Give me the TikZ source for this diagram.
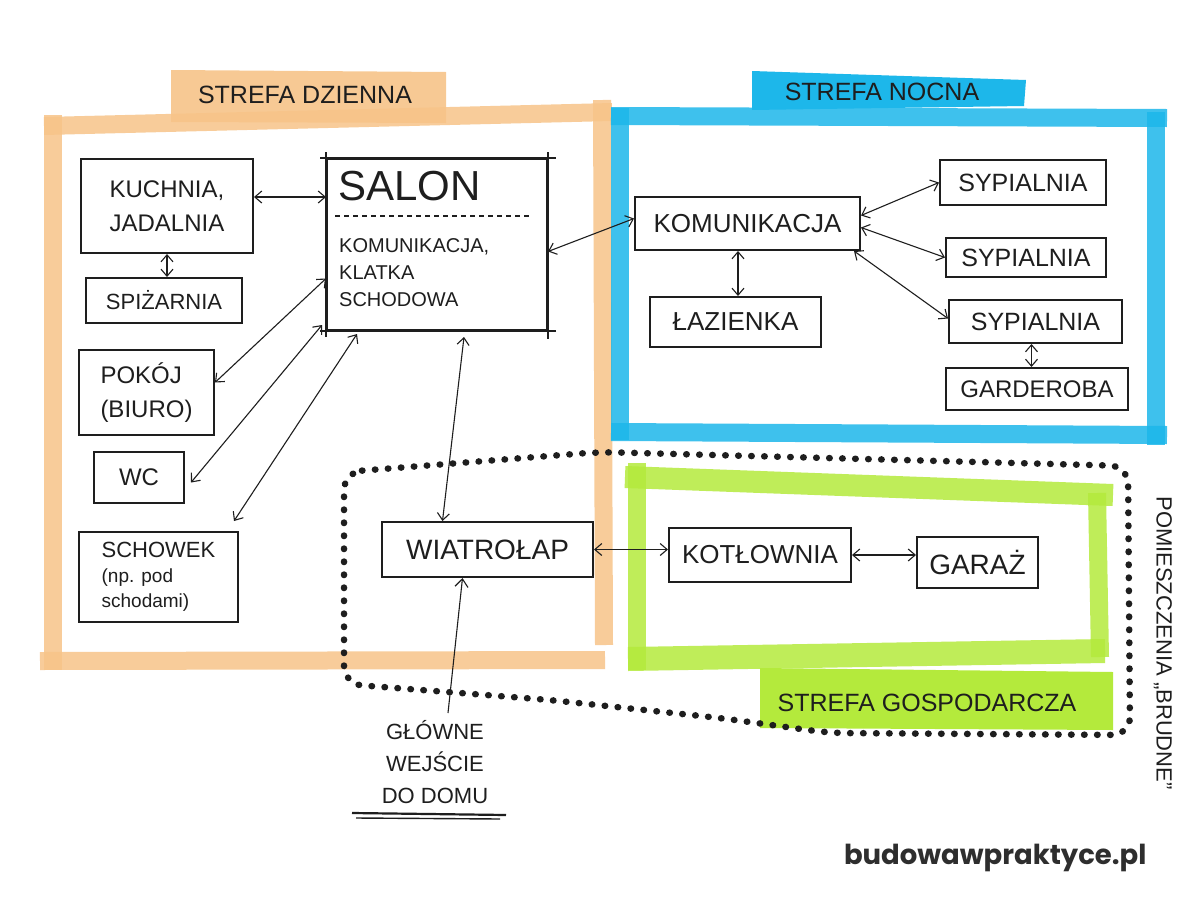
\documentclass[tikz,border=0pt]{standalone}
\usepackage{fontspec}
\setmainfont{Liberation Sans}
\newfontfamily\wmfont{Poppins}
\usetikzlibrary{arrows.meta,calc}
\definecolor{morange}{HTML}{F7C489}
\definecolor{morangelab}{HTML}{F7C78F}
\definecolor{mblue}{HTML}{1DB7EA}
\definecolor{mgreen}{HTML}{B4EA3C}
\definecolor{ink}{HTML}{1E1E1E}
\definecolor{wm}{HTML}{2E2E2E}
\newcommand{\fsz}[2]{\fontsize{#1}{#2}\selectfont}
\begin{document}
\begin{tikzpicture}[x=1pt,y=-1pt,
  room/.style={draw=ink,line width=2pt,inner sep=0pt,fill=white,text=ink,align=left,font=\fsz{24}{34}},
  zone/.style={text=ink,font=\fsz{25}{30}},
  band/.style={line width=18pt,opacity=0.85,line cap=butt},
  arr/.style={draw=ink,line width=1.1pt,{Straight Barb[length=7pt,width=12pt]}-{Straight Barb[length=7pt,width=12pt]}},
  arrone/.style={draw=ink,line width=1.1pt,-{Straight Barb[length=8pt,width=13pt]}},
  dots/.style={draw=ink,line width=6.5pt,line cap=round,dash pattern=on 0.5pt off 12.5pt,rounded corners=18pt}
]
\useasboundingbox[fill=white] (0,0) rectangle (1200,900);

% ---- marker bands: day zone (orange)
\fill[morangelab,opacity=0.95] (171,70) -- (446,72) -- (446,123) -- (171,122) -- cycle;
\draw[band,morange] (44,126) -- (612,112);
\draw[band,morange] (53,115) -- (53,670);
\draw[band,morange] (602,100) -- (604,645);
\draw[band,morange] (40,661) -- (605,660);
\node[zone] (dzienna) at (305,95) {STREFA DZIENNA};

% ---- night zone (blue)
\fill[mblue] (752,71) -- (1026,80) -- (1024,106) -- (752,110) -- cycle;
\draw[band,mblue] (611,116) -- (1167,118);
\draw[band,mblue] (620,108) -- (620,440);
\draw[band,mblue] (1156,112) -- (1156,445);
\draw[band,mblue] (611,432) -- (1167,435);
\node[zone] (nocna) at (882,92) {STREFA NOCNA};

% ---- utility zone (green)
\fill[mgreen] (760,668) -- (1113,672) -- (1113,730) -- (760,728) -- cycle;
\draw[band,mgreen,line width=22pt] (625,477) -- (1113,495);
\draw[band,mgreen] (637,463) -- (637,670);
\draw[band,mgreen] (1097,493) -- (1100,657);
\draw[band,mgreen,line width=24pt] (628,659) -- (1105,651);
\node[zone] (gosp) at (927,703) {STREFA GOSPODARCZA};

% ---- dotted "dirty rooms" outline
\draw[dots] (344,472) -- (600,452) -- (1128,466) -- (1130,735) -- (830,733) -- (720,718) -- (550,700) -- (344,684) -- cycle;
\node[rotate=-90,text=ink,font=\fsz{22}{26}] (brudne) at (1163,643) {POMIESZCZENIA „BRUDNE”};

% ---- rooms, day zone
\node[room,minimum width=172pt,minimum height=94pt] (kuchnia) at (167,206) {KUCHNIA,\\JADALNIA};
\node[room,minimum width=156pt,minimum height=45pt,font=\fsz{22}{26}] (spiz) at (164,300.5) {SPIŻARNIA};
\node[room,minimum width=220pt,minimum height=171pt] (salon) at (437,244.5) {};
\draw[ink,line width=2pt] ([xshift=-6pt]salon.north west) -- ([xshift=8pt]salon.north east)
  ([yshift=6pt]salon.north east) -- ([yshift=-8pt]salon.south east)
  ([xshift=8pt]salon.south east) -- ([xshift=-6pt]salon.south west)
  ([yshift=-6pt]salon.south west) -- ([yshift=6pt]salon.north west);
\node[anchor=west,text=ink,font=\fsz{42}{46},inner sep=0pt] (salontxt) at (338,186) {SALON};
\draw[ink,line width=1.3pt,dash pattern=on 5pt off 4pt] ([xshift=9pt,yshift=-58pt]salon.north west) -- ([xshift=-18pt,yshift=-58pt]salon.north east);
\node[anchor=north west,text=ink,align=left,font=\fsz{20}{27},inner sep=0pt] (salonsub) at (339,238) {KOMUNIKACJA,\\KLATKA\\SCHODOWA};
\node[room,minimum width=135pt,minimum height=85pt] (pokoj) at (146.5,392.5) {POKÓJ\\(BIURO)};
\node[room,minimum width=90pt,minimum height=51pt] (wc) at (139,477.5) {WC};
\node[room,minimum width=159pt,minimum height=90pt,font=\fsz{22}{25}] (schowek) at (158.5,577) {SCHOWEK\\{\fsz{19}{25}(np. pod}\\{\fsz{19}{25}schodami)}};

% ---- rooms, night zone
\node[room,minimum width=225pt,minimum height=53pt,font=\fsz{26}{30}] (komn) at (747.5,223.5) {KOMUNIKACJA};
\node[room,minimum width=171pt,minimum height=50pt,font=\fsz{26}{30}] (laz) at (735.5,322) {ŁAZIENKA};
\node[room,minimum width=166pt,minimum height=45pt,font=\fsz{25}{30}] (syp1) at (1023,182.5) {SYPIALNIA};
\node[room,minimum width=160pt,minimum height=39pt,font=\fsz{25}{30}] (syp2) at (1026,257.5) {SYPIALNIA};
\node[room,minimum width=173pt,minimum height=43pt,font=\fsz{25}{30}] (syp3) at (1035.5,321.5) {SYPIALNIA};
\node[room,minimum width=182pt,minimum height=42pt,font=\fsz{24}{30}] (gard) at (1037,389) {GARDEROBA};

% ---- rooms, utility zone
\node[room,minimum width=211pt,minimum height=55pt,font=\fsz{28}{32}] (wiatr) at (487.5,549.5) {WIATROŁAP};
\node[room,minimum width=182pt,minimum height=54pt,font=\fsz{26}{30}] (kotl) at (760,555) {KOTŁOWNIA};
\node[room,minimum width=121pt,minimum height=51pt,font=\fsz{28}{32}] (garaz) at (977.5,562.5) {GARAŻ};

% ---- entrance
\node[text=ink,align=center,font=\fsz{22}{32}] (wejscie) at (435,762) {GŁÓWNE\\WEJŚCIE\\DO DOMU};
\coordinate (entr) at (448,713);
\draw[ink,line width=2.2pt] (352,813) -- (506,815);
\draw[ink,line width=1.4pt] (356,818) -- (500,819);

% ---- connectors
\draw[arr] ([yshift=9pt]kuchnia.east) -- ([yshift=9pt]kuchnia.east -| salon.west);
\draw[arr] (kuchnia.south) -- (kuchnia.south |- spiz.north);
\draw[arr] ([yshift=10pt]pokoj.east) -- ([yshift=-34pt]salon.west);
\draw[arr] ([xshift=6pt,yshift=-5pt]wc.east) -- ([xshift=-4pt,yshift=6pt]salon.south west);
\draw[arr] ([xshift=-5pt,yshift=10pt]schowek.north east) -- ([xshift=31pt,yshift=-3pt]salon.south west);
\draw[arr] ([xshift=27pt,yshift=-6pt]salon.south) -- ([xshift=-45pt]wiatr.north);
\draw[arr] ([yshift=-7pt]salon.east) -- ([yshift=5pt]komn.west);
\draw[arr] ([yshift=8pt]komn.east) -- (syp1.west);
\draw[arr] ([yshift=-4pt]komn.east) -- (syp2.west);
\draw[arr] ([xshift=-7pt]komn.south east) -- ([yshift=3pt]syp3.west);
\draw[arr] ([xshift=-9.5pt]komn.south) -- ([xshift=-9.5pt]komn.south |- laz.north);
\draw[arr] ([xshift=-4pt]syp3.south) -- ([xshift=-4pt]syp3.south |- gard.north);
\draw[arr] (wiatr.east) -- (wiatr.east -| kotl.west);
\draw[arr] (kotl.east) -- (kotl.east -| garaz.west);
\draw[arrone] (entr) -- ([xshift=-25pt]wiatr.south);

% ---- watermark
\node[anchor=east,text=wm,font=\wmfont\bfseries\fsz{27.5}{32}] (wmark) at (1150,858) {budowawpraktyce.pl};
\end{tikzpicture}
\end{document}
